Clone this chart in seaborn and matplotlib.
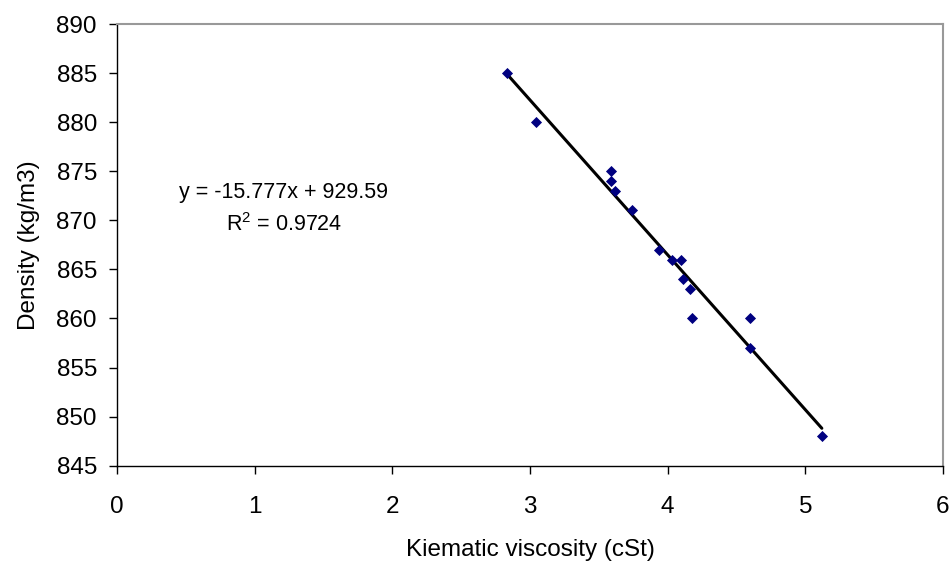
import matplotlib
matplotlib.use("Agg")
import matplotlib.pyplot as plt
import numpy as np
import pandas as pd
import seaborn as sns

# viscosity (cSt) vs density (kg/m3)
viscosity = [2.83, 3.04, 3.59, 3.59, 3.62, 3.74, 3.94, 4.03, 4.10, 4.11, 4.16, 4.18, 4.60, 4.60, 5.12]
density = [885, 880, 875, 874, 873, 871, 867, 866, 866, 864, 863, 860, 860, 857, 848]

# trendline as printed on the chart
slope = -15.777
intercept = 929.59
r_squared = 0.9724

x_ticks = [0, 1, 2, 3, 4, 5, 6]
y_ticks = [845, 850, 855, 860, 865, 870, 875, 880, 885, 890]

df = pd.DataFrame({"visc": viscosity, "dens": density})

sns.set_style("white")
plt.rcParams["font.family"] = ["Liberation Sans", "DejaVu Sans"]
plt.rcParams["mathtext.fontset"] = "custom"
plt.rcParams["mathtext.rm"] = "Liberation Sans"
plt.rcParams["text.color"] = "black"
plt.rcParams["axes.labelcolor"] = "black"
plt.rcParams["xtick.color"] = "black"
plt.rcParams["ytick.color"] = "black"

fig = plt.figure(figsize=(9.5, 5.61), dpi=100)
ax = fig.add_axes([0.1232, 0.1699, 0.8694, 0.7873])

xs = np.array([min(viscosity), max(viscosity)])
ax.plot(xs, slope * xs + intercept, color="black", lw=2.2, zorder=2)
sns.scatterplot(data=df, x="visc", y="dens", marker="D", s=32, color="#000080",
                edgecolor="#000080", linewidth=0, ax=ax, zorder=3)

ax.set_xlim(0, 6)
ax.set_ylim(845, 890)
ax.set_xticks(x_ticks)
ax.set_yticks(y_ticks)
ax.tick_params(axis="y", direction="out", length=6, width=1, labelsize=17.5, pad=8.5, left=True)
ax.tick_params(axis="x", direction="out", length=6, width=1, labelsize=17.5, pad=16, bottom=True)

for side in ["top", "right"]:
    ax.spines[side].set_color("#999999")
    ax.spines[side].set_linewidth(1.5)
for side in ["left", "bottom"]:
    ax.spines[side].set_color("black")
    ax.spines[side].set_linewidth(1)

ax.set_xlabel("Kiematic viscosity (cSt)", fontsize=17.5, labelpad=15)
ax.set_ylabel("Density (kg/m3)", fontsize=17.5, labelpad=12)

ax.text(1.21, 872.25, "y = -15.777x + 929.59", fontsize=15.5, ha="center", va="baseline")
ax.text(1.21, 868.9, "R$^2$ = %.4f" % r_squared, fontsize=15.5, ha="center", va="baseline")

fig.savefig("out.png", dpi=100)
